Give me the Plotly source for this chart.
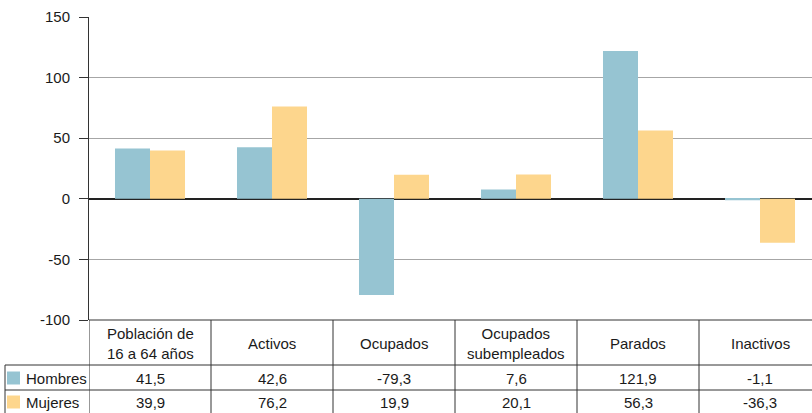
import plotly.graph_objects as go

# datos
categorias = ["Población de<br>16 a 64 años", "Activos", "Ocupados",
              "Ocupados<br>subempleados", "Parados", "Inactivos"]
hombres = [41.5, 42.6, -79.3, 7.6, 121.9, -1.1]
mujeres = [39.9, 76.2, 19.9, 20.1, 56.3, -36.3]
series = [("Hombres", hombres, "#96c4d2"), ("Mujeres", mujeres, "#fdd68d")]
y_ticks = [150, 100, 50, 0, -50, -100]

W, H = 812, 413
L, T, B = 89, 17, 93
PH = H - T - B          # alto del area de trazado
PW = W - L
CAT_W = 122             # ancho de cada categoria en px
FONT = "Liberation Sans, Arial, sans-serif"
FS = 15
LINE = "#333333"


def py(pix):
    # pixel vertical de la pagina -> coordenada paper
    return (H - B - pix) / PH


def px(pix):
    return (pix - L) / PW


def fmt(v):
    return f"{v:.1f}".replace(".", ",")


x = list(range(len(categorias)))
fig = go.Figure()
for nombre, vals, color in series:
    fig.add_trace(go.Bar(name=nombre, x=x, y=vals, marker_color=color,
                         marker_line_width=0, hoverinfo="skip"))

shapes = []
annotations = []

# lineas de la tabla de datos
shapes.append(dict(type="line", xref="paper", yref="paper", x0=0, x1=1,
                   y0=0, y1=0, line=dict(color=LINE, width=1)))
for yy in (365, 390):
    shapes.append(dict(type="line", xref="paper", yref="paper", x0=px(5), x1=1,
                       y0=py(yy), y1=py(yy), line=dict(color=LINE, width=1)))
shapes.append(dict(type="line", xref="paper", yref="paper", x0=px(5), x1=px(5),
                   y0=py(365), y1=py(H), line=dict(color=LINE, width=1)))
for i in range(len(categorias)):
    xv = i - 0.5
    shapes.append(dict(type="line", xref="x", yref="paper", x0=xv, x1=xv,
                       y0=0, y1=py(H), line=dict(color=LINE, width=1)))

# cabecera y valores
for i, cat in enumerate(categorias):
    annotations.append(dict(x=i, y=py(343), text=cat))
    annotations.append(dict(x=i, y=py(378), text=fmt(hombres[i])))
    annotations.append(dict(x=i, y=py(402), text=fmt(mujeres[i])))
for a in annotations:
    a.update(xref="x", yref="paper", showarrow=False, yanchor="middle")

# leyenda dentro de la tabla
for (nombre, vals, color), yc in zip(series, (378, 402)):
    shapes.append(dict(type="rect", xref="paper", yref="paper",
                       x0=px(7), x1=px(20), y0=py(yc - 6.5), y1=py(yc + 6.5),
                       fillcolor=color, line_width=0))
    annotations.append(dict(x=px(24), y=py(yc), xref="paper", yref="paper",
                            text=nombre, showarrow=False, xanchor="left",
                            yanchor="middle"))

fig.update_layout(
    width=W, height=H,
    margin=dict(l=L, r=0, t=T, b=B),
    plot_bgcolor="white", paper_bgcolor="white",
    font=dict(family=FONT, size=FS, color="#1a1a1a"),
    barmode="group", bargap=0.426, bargroupgap=0,
    showlegend=False,
    shapes=shapes, annotations=annotations,
)
fig.update_xaxes(range=[-0.5, -0.5 + PW / CAT_W], showticklabels=False,
                 showgrid=False, zeroline=False, fixedrange=True)
fig.update_yaxes(range=[-100, 150], tickvals=y_ticks,
                 ticktext=[str(v) for v in y_ticks],
                 ticks="outside", ticklen=9, tickcolor=LINE, ticklabelstandoff=6,
                 showline=True, linecolor=LINE, linewidth=1,
                 gridcolor="#a6a6a6", gridwidth=1, fixedrange=True,
                 zeroline=True, zerolinecolor="#222222", zerolinewidth=1.5)

# sin margen del body para que la figura empiece en (0, 0)
fig.write_html("out.html", config={"displayModeBar": False},
               post_script="document.body.style.margin='0';")
